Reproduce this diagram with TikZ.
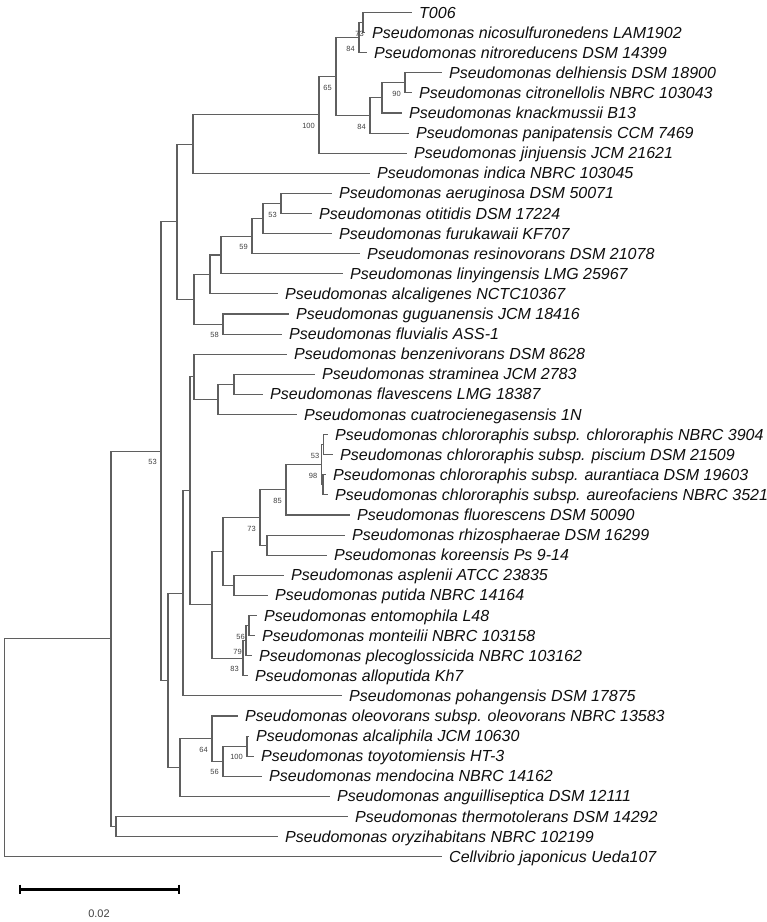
\documentclass[tikz,border=0pt]{standalone}
\usepackage{fontspec}
\setmainfont{Liberation Sans}
\definecolor{treecol}{RGB}{95,95,95}
\definecolor{bscol}{RGB}{65,65,65}
\definecolor{txtcol}{RGB}{15,15,15}
\newcommand{\tleaf}[4]{\coordinate (#1) at (#2,#3); \node[leaflab] (#1-t) at ([xshift=7pt,yshift=-5.5pt]#1) {#4};}
\newcommand{\tnode}[3]{\coordinate (#1) at (#2,#3);}
\newcommand{\tbr}[2]{\draw[treeline] (#1) |- (#2);}
\newcommand{\bsl}[2]{\node[bslab] (#1-b) at ([xshift=-4pt,yshift=-11pt]#1) {#2};}
\tikzset{
  treeline/.style={draw=treecol, line width=1.1pt},
  leaflab/.style={anchor=base west, inner sep=0pt, font=\fontsize{16}{19}\selectfont\itshape, text=txtcol},
  bslab/.style={anchor=east, inner sep=0pt, font=\fontsize{7.5}{9}\selectfont, text=bscol},
  scalebar/.style={draw=black, line width=3pt},
  scaletick/.style={draw=black, line width=1.8pt},
  scalelab/.style={inner sep=0pt, font=\fontsize{11}{13}\selectfont, text=bscol}
}
\begin{document}
\begin{tikzpicture}[x=1pt,y=-1pt]
\fill[white] (0,0) rectangle (767,922);
\path[use as bounding box] (0,0) rectangle (767,922);
% leaves
\tleaf{L0}{412}{12.5}{T006}
\tleaf{L1}{365}{32.6}{Pseudomonas nicosulfuronedens LAM1902}
\tleaf{L2}{367}{52.7}{Pseudomonas nitroreducens DSM 14399}
\tleaf{L3}{442}{72.8}{Pseudomonas delhiensis DSM 18900}
\tleaf{L4}{412}{92.9}{Pseudomonas citronellolis NBRC 103043}
\tleaf{L5}{402}{113.0}{Pseudomonas knackmussii B13}
\tleaf{L6}{409}{133.1}{Pseudomonas panipatensis CCM 7469}
\tleaf{L7}{407}{153.2}{Pseudomonas jinjuensis JCM 21621}
\tleaf{L8}{370}{173.3}{Pseudomonas indica NBRC 103045}
\tleaf{L9}{332}{193.4}{Pseudomonas aeruginosa DSM 50071}
\tleaf{L10}{312}{213.5}{Pseudomonas otitidis DSM 17224}
\tleaf{L11}{332}{233.6}{Pseudomonas furukawaii KF707}
\tleaf{L12}{360}{253.7}{Pseudomonas resinovorans DSM 21078}
\tleaf{L13}{343}{273.8}{Pseudomonas linyingensis LMG 25967}
\tleaf{L14}{278}{293.9}{Pseudomonas alcaligenes NCTC10367}
\tleaf{L15}{289}{314.0}{Pseudomonas guguanensis JCM 18416}
\tleaf{L16}{282}{334.1}{Pseudomonas fluvialis ASS-1}
\tleaf{L17}{287}{354.2}{Pseudomonas benzenivorans DSM 8628}
\tleaf{L18}{315}{374.3}{Pseudomonas straminea JCM 2783}
\tleaf{L19}{263}{394.4}{Pseudomonas flavescens LMG 18387}
\tleaf{L20}{297}{414.5}{Pseudomonas cuatrocienegasensis 1N}
\tleaf{L21}{328}{434.6}{Pseudomonas chlororaphis subsp. chlororaphis NBRC 3904}
\tleaf{L22}{333}{454.7}{Pseudomonas chlororaphis subsp. piscium DSM 21509}
\tleaf{L23}{326}{474.8}{Pseudomonas chlororaphis subsp. aurantiaca DSM 19603}
\tleaf{L24}{328}{494.9}{Pseudomonas chlororaphis subsp. aureofaciens NBRC 3521}
\tleaf{L25}{350}{515.0}{Pseudomonas fluorescens DSM 50090}
\tleaf{L26}{345}{535.1}{Pseudomonas rhizosphaerae DSM 16299}
\tleaf{L27}{327}{555.2}{Pseudomonas koreensis Ps 9-14}
\tleaf{L28}{284}{575.3}{Pseudomonas asplenii ATCC 23835}
\tleaf{L29}{268}{595.4}{Pseudomonas putida NBRC 14164}
\tleaf{L30}{257}{615.5}{Pseudomonas entomophila L48}
\tleaf{L31}{255}{635.6}{Pseudomonas monteilii NBRC 103158}
\tleaf{L32}{252}{655.7}{Pseudomonas plecoglossicida NBRC 103162}
\tleaf{L33}{248}{675.8}{Pseudomonas alloputida Kh7}
\tleaf{L34}{342}{695.9}{Pseudomonas pohangensis DSM 17875}
\tleaf{L35}{238}{716.0}{Pseudomonas oleovorans subsp. oleovorans NBRC 13583}
\tleaf{L36}{249}{736.1}{Pseudomonas alcaliphila JCM 10630}
\tleaf{L37}{254}{756.2}{Pseudomonas toyotomiensis HT-3}
\tleaf{L38}{262}{776.3}{Pseudomonas mendocina NBRC 14162}
\tleaf{L39}{330}{796.4}{Pseudomonas anguilliseptica DSM 12111}
\tleaf{L40}{348}{816.5}{Pseudomonas thermotolerans DSM 14292}
\tleaf{L41}{278}{836.6}{Pseudomonas oryzihabitans NBRC 102199}
\tleaf{L42}{442}{856.7}{Cellvibrio japonicus Ueda107}
% internal nodes
\tnode{nA}{363}{22.55}
\tnode{nB}{359}{37.6}
\tnode{nC}{405}{82.85}
\tnode{nD}{382}{97.9}
\tnode{nE}{370}{115.5}
\tnode{nF}{336}{76.6}
\tnode{nG}{319}{114.9}
\tnode{nH}{193}{144.1}
\tnode{nI}{281}{203.45}
\tnode{nJ}{263}{218.5}
\tnode{nK}{252}{236.1}
\tnode{nL}{221}{255.0}
\tnode{nM}{210}{274.4}
\tnode{nN}{223}{324.05}
\tnode{nO}{194}{299.2}
\tnode{nP}{177}{221.7}
\tnode{nQ}{234}{384.35}
\tnode{nR}{218}{399.4}
\tnode{nS}{194}{376.8}
\tnode{nCh}{323.5}{444.65}
\tnode{nAu}{323}{484.85}
\tnode{nNi}{321.5}{464.75}
\tnode{nFl}{286}{489.9}
\tnode{nRK}{267}{545.15}
\tnode{nSe}{260}{517.5}
\tnode{nAP}{234}{585.35}
\tnode{nU}{223}{551.4}
\tnode{nEn}{249}{625.55}
\tnode{nMo}{246}{640.6}
\tnode{nAl}{243}{658.2}
\tnode{nV}{212}{604.8}
\tnode{nT}{190}{490.8}
\tnode{nW}{183}{593.35}
\tnode{nTy}{247}{746.15}
\tnode{nMe}{223}{761.2}
\tnode{nOl}{212}{738.6}
\tnode{nX}{180}{767.5}
\tnode{nY}{168}{680.4}
\tnode{nZa}{161}{451.05}
\tnode{nTO}{116}{826.55}
\tnode{nZ}{111}{638.8}
\tnode{root}{4.5}{747.75}
% branches
\tbr{nA}{L0}\tbr{nA}{L1}
\tbr{nB}{nA}\tbr{nB}{L2}
\tbr{nC}{L3}\tbr{nC}{L4}
\tbr{nD}{nC}\tbr{nD}{L5}
\tbr{nE}{nD}\tbr{nE}{L6}
\tbr{nF}{nB}\tbr{nF}{nE}
\tbr{nG}{nF}\tbr{nG}{L7}
\tbr{nH}{nG}\tbr{nH}{L8}
\tbr{nI}{L9}\tbr{nI}{L10}
\tbr{nJ}{nI}\tbr{nJ}{L11}
\tbr{nK}{nJ}\tbr{nK}{L12}
\tbr{nL}{nK}\tbr{nL}{L13}
\tbr{nM}{nL}\tbr{nM}{L14}
\tbr{nN}{L15}\tbr{nN}{L16}
\tbr{nO}{nM}\tbr{nO}{nN}
\tbr{nP}{nH}\tbr{nP}{nO}
\tbr{nQ}{L18}\tbr{nQ}{L19}
\tbr{nR}{nQ}\tbr{nR}{L20}
\tbr{nS}{L17}\tbr{nS}{nR}
\tbr{nCh}{L21}\tbr{nCh}{L22}
\tbr{nAu}{L23}\tbr{nAu}{L24}
\tbr{nNi}{nCh}\tbr{nNi}{nAu}
\tbr{nFl}{nNi}\tbr{nFl}{L25}
\tbr{nRK}{L26}\tbr{nRK}{L27}
\tbr{nSe}{nFl}\tbr{nSe}{nRK}
\tbr{nAP}{L28}\tbr{nAP}{L29}
\tbr{nU}{nSe}\tbr{nU}{nAP}
\tbr{nEn}{L30}\tbr{nEn}{L31}
\tbr{nMo}{nEn}\tbr{nMo}{L32}
\tbr{nAl}{nMo}\tbr{nAl}{L33}
\tbr{nV}{nU}\tbr{nV}{nAl}
\tbr{nT}{nS}\tbr{nT}{nV}
\tbr{nW}{nT}\tbr{nW}{L34}
\tbr{nTy}{L36}\tbr{nTy}{L37}
\tbr{nMe}{nTy}\tbr{nMe}{L38}
\tbr{nOl}{L35}\tbr{nOl}{nMe}
\tbr{nX}{nOl}\tbr{nX}{L39}
\tbr{nY}{nW}\tbr{nY}{nX}
\tbr{nZa}{nP}\tbr{nZa}{nY}
\tbr{nTO}{L40}\tbr{nTO}{L41}
\tbr{nZ}{nZa}\tbr{nZ}{nTO}
\tbr{root}{nZ}\tbr{root}{L42}
% bootstrap values
\node[bslab] (nA-b) at ([xshift=1pt,yshift=-11pt]nA) {73};
\bsl{nB}{84}
\bsl{nC}{90}
\bsl{nE}{84}
\bsl{nF}{65}
\bsl{nG}{100}
\bsl{nI}{53}
\bsl{nK}{59}
\bsl{nN}{58}
\bsl{nZa}{53}
\bsl{nCh}{53}
\bsl{nNi}{98}
\bsl{nFl}{85}
\bsl{nSe}{73}
\bsl{nEn}{56}
\bsl{nMo}{79}
\bsl{nAl}{83}
\bsl{nOl}{64}
\bsl{nTy}{100}
\bsl{nMe}{56}
% scale bar
\coordinate (sbL) at (20,889);
\coordinate (sbR) at (179,889);
\draw[scalebar] (sbL) -- (sbR);
\draw[scaletick] ([yshift=4.5pt]sbL) -- ([yshift=-4.5pt]sbL);
\draw[scaletick] ([yshift=4.5pt]sbR) -- ([yshift=-4.5pt]sbR);
\node[scalelab] (sbT) at (99,914) {0.02};
\end{tikzpicture}
\end{document}
